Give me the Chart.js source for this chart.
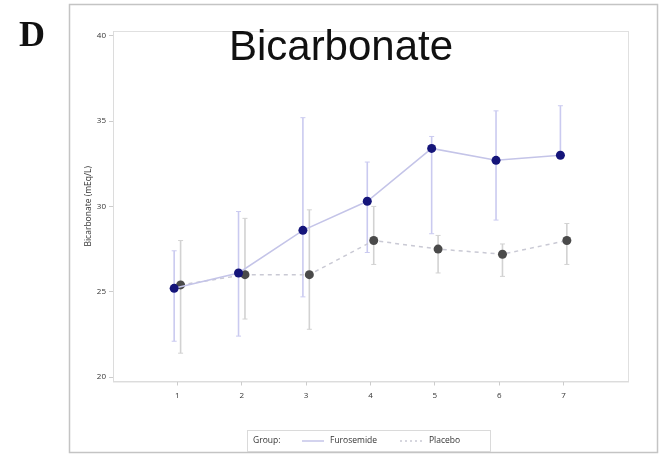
<!DOCTYPE html>
<html><head><meta charset="utf-8">
<script src="https://cdn.jsdelivr.net/npm/chart.js@4"></script>
<style>html,body{margin:0;padding:0;background:#fff;}#wrap{position:relative;width:667px;height:454px;}canvas{display:block;}</style>
</head><body><div id="wrap"><canvas id="c" width="667" height="454" style="width:667px;height:454px;"></canvas></div>
<script>
const visits = [1, 2, 3, 4, 5, 6, 7];
const xTicks = [1, 2, 3, 4, 5, 6, 7];
const yTicks = [20, 25, 30, 35, 40];
const furoMean = [25.2, 26.1, 28.6, 30.3, 33.4, 32.7, 33.0];
const furoLow  = [22.1, 22.4, 24.7, 27.3, 28.4, 29.2, 33.0];
const furoHigh = [27.4, 29.7, 35.2, 32.6, 34.1, 35.6, 35.9];
const placMean = [25.4, 26.0, 26.0, 28.0, 27.5, 27.2, 28.0];
const placLow  = [21.4, 23.4, 22.8, 26.6, 26.1, 25.9, 26.6];
const placHigh = [28.0, 29.3, 29.8, 30.0, 28.3, 27.8, 29.0];
const seriesNames = ['Furosemide', 'Placebo'];
const titleText = 'Bicarbonate';
const yTitle = 'Bicarbonate (mEq/L)';
const panelLetter = 'D';
const legendTitle = 'Group:';

const OFF = 0.05;
const FURO_LINE = '#c4c4e8', FURO_DOT = '#15157a', FURO_BAR = '#cacaf0';
const PLAC_LINE = '#c9c9d4', PLAC_DOT = '#4a4a4a', PLAC_BAR = '#d2d2d2';
const SANS = '"Open Sans", "Liberation Sans", sans-serif';

const pts = (m, dx) => m.map((v, i) => ({x: visits[i] + dx, y: v}));

const errorBars = {
  id: 'errorBars',
  beforeDatasetsDraw(chart) {
    const ctx = chart.ctx, xs = chart.scales.x, ys = chart.scales.y;
    const sets = [
      {lo: furoLow, hi: furoHigh, dx: -OFF, color: FURO_BAR},
      {lo: placLow, hi: placHigh, dx: OFF, color: PLAC_BAR}
    ];
    ctx.save();
    sets.forEach(s => {
      ctx.strokeStyle = s.color;
      for (let i = 0; i < visits.length; i++) {
        const x = xs.getPixelForValue(visits[i] + s.dx);
        const yl = ys.getPixelForValue(s.lo[i]);
        const yh = ys.getPixelForValue(s.hi[i]);
        ctx.lineWidth = 1.6;
        ctx.beginPath(); ctx.moveTo(x, yl); ctx.lineTo(x, yh); ctx.stroke();
        ctx.lineWidth = 1;
        ctx.beginPath();
        ctx.moveTo(x - 2.5, yl); ctx.lineTo(x + 2.5, yl);
        ctx.moveTo(x - 2.5, yh); ctx.lineTo(x + 2.5, yh);
        ctx.stroke();
      }
    });
    ctx.restore();
  }
};

const deco = {
  id: 'deco',
  beforeDraw(chart) {
    const ctx = chart.ctx, a = chart.chartArea;
    ctx.save();
    ctx.fillStyle = '#fff';
    ctx.fillRect(0, 0, chart.width, chart.height);
    ctx.strokeStyle = '#c4c4c4';
    ctx.lineWidth = 1.5;
    ctx.strokeRect(69.5, 4.5, 588, 448);
    ctx.strokeStyle = '#e0e0e0';
    ctx.lineWidth = 1;
    ctx.strokeRect(Math.round(a.left) + 0.5, Math.round(a.top) + 0.5, a.right - a.left, a.bottom - a.top);
    ctx.restore();
  },
  afterDraw(chart) {
    const ctx = chart.ctx;
    ctx.save();
    ctx.fillStyle = '#111';
    ctx.font = 'bold 36px "Liberation Serif", "DejaVu Serif", serif';
    ctx.textAlign = 'left'; ctx.textBaseline = 'alphabetic';
    ctx.fillText(panelLetter, 19, 46);
    ctx.font = '42px "Liberation Sans", Arial, sans-serif';
    ctx.textAlign = 'center';
    ctx.fillText(titleText, 341, 60);
    const lx = 247, ly = 430, lw = 243, lh = 21;
    ctx.strokeStyle = '#dadada'; ctx.lineWidth = 1;
    ctx.strokeRect(lx + 0.5, ly + 0.5, lw, lh);
    ctx.font = '8.5px ' + SANS;
    ctx.fillStyle = '#333';
    ctx.textAlign = 'left'; ctx.textBaseline = 'middle';
    const cy = ly + lh / 2 + 0.5;
    ctx.fillText(legendTitle, 253, cy);
    ctx.strokeStyle = FURO_LINE; ctx.lineWidth = 1.5;
    ctx.beginPath(); ctx.moveTo(302, cy); ctx.lineTo(324, cy); ctx.stroke();
    ctx.fillText(seriesNames[0], 330, cy);
    ctx.strokeStyle = PLAC_LINE; ctx.setLineDash([2, 3]);
    ctx.beginPath(); ctx.moveTo(400, cy); ctx.lineTo(423, cy); ctx.stroke();
    ctx.setLineDash([]);
    ctx.fillText(seriesNames[1], 429, cy);
    ctx.restore();
  }
};

new Chart(document.getElementById('c'), {
  type: 'line',
  data: {
    datasets: [
      {label: seriesNames[0], data: pts(furoMean, -OFF), borderColor: FURO_LINE, borderWidth: 1.5,
       pointBackgroundColor: FURO_DOT, pointBorderColor: FURO_DOT, pointRadius: 4.5, pointBorderWidth: 0, tension: 0},
      {label: seriesNames[1], data: pts(placMean, OFF), borderColor: PLAC_LINE, borderWidth: 1.5, borderDash: [4, 4],
       pointBackgroundColor: PLAC_DOT, pointBorderColor: PLAC_DOT, pointRadius: 4.5, pointBorderWidth: 0, tension: 0}
    ]
  },
  options: {
    responsive: false, animation: false, devicePixelRatio: 1,
    layout: {padding: {left: 80, right: 39, top: 31, bottom: 0}},
    plugins: {legend: {display: false}, tooltip: {enabled: false}},
    scales: {
      x: {
        type: 'linear', min: 0, max: 8,
        afterBuildTicks: ax => { ax.ticks = xTicks.map(v => ({value: v})); },
        afterFit: ax => { ax.height = 72.5; },
        grid: {display: true, drawOnChartArea: false, tickLength: 4, color: '#cccccc'},
        border: {display: true, color: '#dcdcdc'},
        ticks: {padding: 5, color: '#333', font: {family: SANS, size: 8}, maxRotation: 0, callback: v => String(v)}
      },
      y: {
        min: 19.74, max: 40.28,
        afterBuildTicks: ax => { ax.ticks = yTicks.map(v => ({value: v})); },
        afterFit: ax => { ax.width = 33; },
        grid: {display: true, drawOnChartArea: false, tickLength: 4, color: '#cccccc'},
        border: {display: true, color: '#dcdcdc'},
        ticks: {padding: 3, color: '#333', font: {family: SANS, size: 8}, callback: v => String(v)},
        title: {display: true, text: yTitle, color: '#333', font: {family: SANS, size: 8.5}, padding: {top: 3, bottom: 0}}
      }
    }
  },
  plugins: [errorBars, deco]
});
</script></body></html>
